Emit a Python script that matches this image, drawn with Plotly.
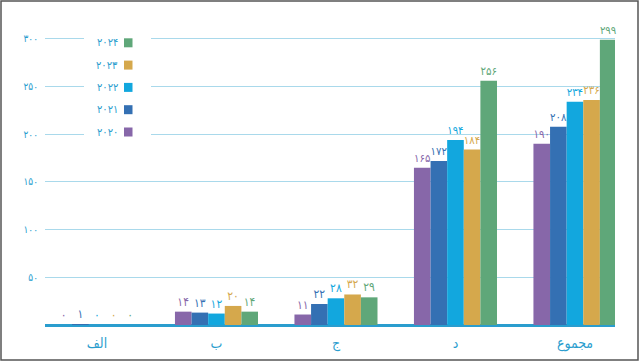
import plotly.graph_objects as go

categories = ["الف", "ب", "ج", "د", "مجموع"]
years = ["2020", "2021", "2022", "2023", "2024"]
v2020 = [0, 14, 11, 165, 190]
v2021 = [1, 13, 22, 172, 208]
v2022 = [0, 12, 28, 194, 234]
v2023 = [0, 20, 32, 184, 236]
v2024 = [0, 14, 29, 256, 299]
series = [v2020, v2021, v2022, v2023, v2024]
colors = ["#8767a9", "#3470b3", "#12a7de", "#d5a84c", "#5fa779"]
yticks = [50, 100, 150, 200, 250, 300]

AXIS = "#2a9dce"
GRID = "#a9d9eb"
FONT = "DejaVu Sans Condensed, DejaVu Sans"

def fa(n):
    return str(n).translate(str.maketrans("0123456789", "۰۱۲۳۴۵۶۷۸۹"))

fig = go.Figure()
for y, vals, c in zip(years, series, colors):
    fig.add_trace(go.Bar(
        x=categories, y=vals, name=y, marker=dict(color=c, line=dict(width=0)),
        text=[fa(v) for v in vals], textposition="outside", cliponaxis=False,
        textfont=dict(color=c, size=12, family=FONT), showlegend=False,
    ))

L, R, T, B = 45, 25, 37, 38
W, H = 640, 363
pw, ph = W - L - R, H - T - B
YMAX = 302

def px_x(p):
    return (p - L) / pw

def px_y(p):
    return (H - B - p) / ph

shapes = []
annotations = []
# legend background
shapes.append(dict(type="rect", xref="paper", yref="paper", x0=px_x(84), x1=px_x(151),
                   y0=px_y(143), y1=px_y(30), fillcolor="white", line=dict(width=0), layer="above"))
for i, (y, c) in enumerate(zip(years, colors)):
    cy = 132 - i * 22.3
    shapes.append(dict(type="rect", xref="paper", yref="paper", x0=px_x(124), x1=px_x(132.5),
                       y0=px_y(cy + 4.5), y1=px_y(cy - 4.5), fillcolor=c, line=dict(width=0), layer="above"))
    annotations.append(dict(xref="paper", yref="paper", x=px_x(120), y=px_y(cy), text=fa(y),
                            showarrow=False, xanchor="right", yanchor="middle",
                            font=dict(color=AXIS, size=11, family=FONT)))
# outer frame
shapes.append(dict(type="rect", xref="paper", yref="paper", x0=px_x(1), x1=px_x(638),
                   y0=px_y(360), y1=px_y(1), line=dict(color="#555555", width=1.5)))

fig.update_layout(
    width=W, height=H, margin=dict(l=L, r=R, t=T, b=B),
    paper_bgcolor="white", plot_bgcolor="white",
    barmode="group", bargap=0.305, bargroupgap=0,
    shapes=shapes, annotations=annotations, showlegend=False,
    font=dict(family=FONT),
)
fig.update_xaxes(range=[-0.435, 4.335], showgrid=False, showline=False, ticks="",
                 tickfont=dict(color=AXIS, size=14, family=FONT), zeroline=False,
                 ticklabelstandoff=8)
fig.update_yaxes(range=[0, YMAX], tickvals=yticks, ticktext=[fa(v) for v in yticks],
                 showgrid=True, gridcolor=GRID, gridwidth=1, zeroline=True,
                 zerolinecolor=AXIS, zerolinewidth=2.5, showline=False, ticks="",
                 tickfont=dict(color=AXIS, size=10, family=FONT), ticklabelstandoff=6)

fig.write_html("out.html", config={"displayModeBar": False},
               post_script="document.body.style.margin='0';document.body.style.overflow='hidden';")
